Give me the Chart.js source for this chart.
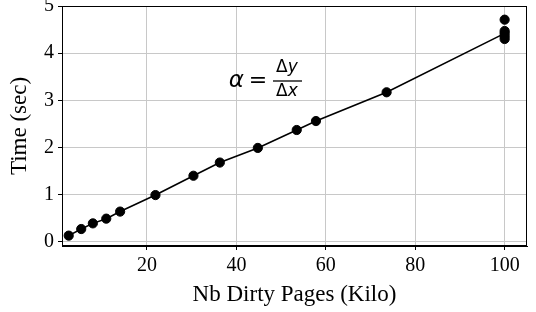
<!DOCTYPE html>
<html>
<head>
<meta charset="utf-8">
<script src="https://cdn.jsdelivr.net/npm/chart.js@4/dist/chart.umd.min.js"></script>
<style>
  html, body { margin: 0; padding: 0; background: #fff; }
  canvas { display: block; }
</style>
</head>
<body>
<canvas id="timeChart" width="536" height="312"></canvas>
<script>
// measured points (Kilo pages, seconds)
const dirtyPages = [2.5, 5.3, 7.9, 10.9, 14.0, 21.9, 30.4, 36.3, 44.8, 53.5, 57.8, 73.6, 100, 100, 100, 100, 100];
const timeSec    = [0.13, 0.27, 0.39, 0.49, 0.64, 0.99, 1.40, 1.68, 1.99, 2.37, 2.56, 3.17, 4.71, 4.47, 4.42, 4.36, 4.30];
// line through the runs, ending at the typical value at 100
const lineX = [2.5, 5.3, 7.9, 10.9, 14.0, 21.9, 30.4, 36.3, 44.8, 53.5, 57.8, 73.6, 100];
const lineY = [0.13, 0.27, 0.39, 0.49, 0.64, 0.99, 1.40, 1.68, 1.99, 2.37, 2.56, 3.17, 4.42];
const xTicks = [20, 40, 60, 80, 100];
const yTicks = [0, 1, 2, 3, 4, 5];

const serif = "'Liberation Serif', 'DejaVu Serif', serif";

const framePlugin = {
    id: 'frame',
    afterDraw(chart) {
        const a = chart.chartArea;
        const ctx = chart.ctx;
        ctx.save();
        ctx.strokeStyle = '#000';
        ctx.lineWidth = 1;
        ctx.strokeRect(a.left + 0.5, a.top + 0.5, a.right - a.left - 1, a.bottom - a.top - 1);

        // slope formula: alpha = delta y / delta x
        const cx = 262, cy = 80;
        ctx.fillStyle = '#000';
        ctx.textBaseline = 'middle';
        ctx.font = "italic 23px 'DejaVu Sans'";
        ctx.textAlign = 'right';
        ctx.fillText('α', cx - 18, cy + 1);
        ctx.font = "22px 'DejaVu Sans'";
        ctx.textAlign = 'center';
        ctx.fillText('=', cx - 4, cy + 1);
        ctx.textAlign = 'left';
        ctx.font = "17px 'DejaVu Sans'";
        const dw = ctx.measureText('Δ').width;
        ctx.fillText('Δ', cx + 14, cy - 12);
        ctx.fillText('Δ', cx + 14, cy + 12);
        ctx.font = "italic 17px 'DejaVu Sans'";
        ctx.fillText('y', cx + 14 + dw, cy - 12);
        ctx.fillText('x', cx + 14 + dw, cy + 12);
        ctx.lineWidth = 1.3;
        ctx.beginPath();
        ctx.moveTo(cx + 11, cy + 1);
        ctx.lineTo(cx + 40, cy + 1);
        ctx.stroke();
        ctx.restore();
    }
};

const ctx = document.getElementById("timeChart").getContext("2d");
new Chart(ctx, {
    type: 'scatter',
    data: {
        datasets: [
            {
                type: 'line',
                data: lineX.map((x, i) => ({ x: x, y: lineY[i] })),
                borderColor: '#000',
                borderWidth: 1.6,
                pointRadius: 0,
                fill: false,
                order: 2
            },
            {
                data: dirtyPages.map((x, i) => ({ x: x, y: timeSec[i] })),
                backgroundColor: '#000',
                borderColor: '#000',
                pointRadius: 4.6,
                order: 1
            }
        ]
    },
    plugins: [framePlugin],
    options: {
        responsive: false,
        animation: false,
        devicePixelRatio: 1,
        layout: { padding: { left: 0, right: 9, top: 6, bottom: 0 } },
        plugins: {
            legend: { display: false },
            tooltip: { enabled: false }
        },
        scales: {
            x: {
                type: 'linear',
                min: 1,
                max: 105,
                afterBuildTicks: axis => { axis.ticks = xTicks.map(v => ({ value: v })); },
                afterFit: axis => { axis.height = 66; axis.paddingLeft = 0; axis.paddingRight = 0; },
                grid: { color: '#c8c8c8', lineWidth: 1, tickColor: '#000', tickLength: 4 },
                border: { color: '#000', width: 1 },
                ticks: { color: '#000', font: { family: serif, size: 20 }, padding: 4, maxRotation: 0 },
                title: {
                    display: true,
                    text: 'Nb Dirty Pages (Kilo)',
                    color: '#000',
                    font: { family: serif, size: 23 },
                    padding: { top: 0, bottom: 3 }
                }
            },
            y: {
                type: 'linear',
                min: -0.09,
                max: 5,
                afterBuildTicks: axis => { axis.ticks = yTicks.map(v => ({ value: v })); },
                afterFit: axis => { axis.width = 62; axis.paddingTop = 0; axis.paddingBottom = 0; },
                grid: { color: '#c8c8c8', lineWidth: 1, tickColor: '#000', tickLength: 4 },
                border: { color: '#000', width: 1 },
                ticks: { color: '#000', font: { family: serif, size: 20 }, padding: 4 },
                title: {
                    display: true,
                    text: 'Time (sec)',
                    color: '#000',
                    font: { family: serif, size: 23 },
                    padding: { top: 6, bottom: 0 }
                }
            }
        }
    }
});
</script>
</body>
</html>
